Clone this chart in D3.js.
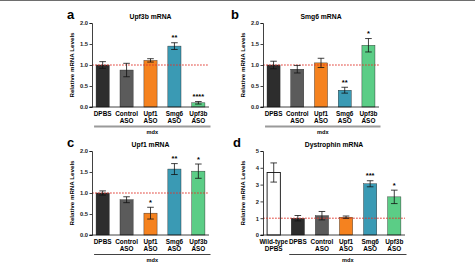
<!DOCTYPE html>
<html>
<head>
<meta charset="utf-8">
<script src="https://cdn.jsdelivr.net/npm/d3@7"></script>
<style>
  body { margin: 0; background: #fff; }
  svg { display: block; font-family: "Liberation Sans", Arial, sans-serif; font-weight: bold; }
</style>
</head>
<body>
<svg id="chart" width="475" height="262"></svg>
<script>
// groups on the x axis
const groupsABC = ["DPBS", "Control ASO", "Upf1 ASO", "Smg6 ASO", "Upf3b ASO"];
const groupsD = ["Wild-type DPBS", "DPBS", "Control ASO", "Upf1 ASO", "Smg6 ASO", "Upf3b ASO"];

// a: Upf3b mRNA
const upf3bMean = [1.0, 0.88, 1.11, 1.45, 0.10];
const upf3bErr = [0.08, 0.16, 0.04, 0.08, 0.03];
const upf3bStars = ["", "", "", "**", "****"];

// b: Smg6 mRNA
const smg6Mean = [1.0, 0.90, 1.05, 0.40, 1.47];
const smg6Err = [0.09, 0.09, 0.11, 0.07, 0.16];
const smg6Stars = ["", "", "", "**", "*"];

// c: Upf1 mRNA
const upf1Mean = [1.0, 0.84, 0.52, 1.57, 1.52];
const upf1Err = [0.05, 0.07, 0.14, 0.13, 0.17];
const upf1Stars = ["", "", "*", "**", "*"];

// d: Dystrophin mRNA
const dysMean = [3.72, 1.0, 1.15, 1.06, 3.05, 2.27];
const dysErr = [0.57, 0.16, 0.25, 0.07, 0.18, 0.40];
const dysStars = ["", "", "", "", "***", "*"];

const yTicksRel = [0, 0.5, 1.0, 1.5, 2.0];
const yTicksDys = [0, 1, 2, 3, 4, 5];

const fills = {
  "Wild-type DPBS": "#ffffff",
  "DPBS": "#2d2d2d",
  "Control ASO": "#5b5b5b",
  "Upf1 ASO": "#f5821f",
  "Smg6 ASO": "#3a9ab4",
  "Upf3b ASO": "#5bcd86"
};

const svg = d3.select("#chart");

// thin frame line along the top of the figure
svg.append("line")
  .attr("x1", 0).attr("x2", 475).attr("y1", 0.5).attr("y2", 0.5)
  .attr("stroke", "#6e6e6e").attr("stroke-width", 1.2);

function drawPanel(p) {
  const g = svg.append("g");

  const x = d3.scaleBand()
    .domain(p.groups)
    .range(p.xRange)
    .paddingInner(0.45)
    .paddingOuter(0.17);

  const y = d3.scaleLinear()
    .domain([0, p.yMax])
    .range(p.yRange);

  // panel letter
  g.append("text")
    .attr("x", p.letterX).attr("y", p.yRange[1] - 4)
    .attr("font-size", 13).attr("font-weight", "bold")
    .text(p.letter);

  // title
  g.append("text")
    .attr("x", (p.xRange[0] + p.xRange[1]) / 2).attr("y", p.yRange[1] - 4.5)
    .attr("text-anchor", "middle")
    .attr("font-size", 6.8)
    .text(p.title);

  // y label
  g.append("text")
    .attr("transform", `translate(${p.xRange[0] - 18.5},${(p.yRange[0] + p.yRange[1]) / 2}) rotate(-90)`)
    .attr("text-anchor", "middle")
    .attr("font-size", 6.2)
    .text("Relative mRNA Levels");

  // bars
  g.append("g")
    .selectAll("rect")
    .data(p.mean)
    .join("rect")
    .attr("x", (d, i) => x(p.groups[i]))
    .attr("y", d => y(d))
    .attr("width", x.bandwidth())
    .attr("height", d => y(0) - y(d))
    .attr("fill", (d, i) => fills[p.groups[i]])
    .attr("stroke", (d, i) => p.groups[i] === "Wild-type DPBS" ? "#111" : "#222")
    .attr("stroke-width", (d, i) => p.groups[i] === "Wild-type DPBS" ? 0.9 : 0.4);

  // reference line at 1
  g.append("line")
    .attr("x1", p.xRange[0]).attr("x2", p.xRange[1])
    .attr("y1", y(1)).attr("y2", y(1))
    .attr("stroke", "#e0352c").attr("stroke-width", 0.9)
    .attr("stroke-dasharray", "1.8,1.2");

  // error bars
  const eb = g.append("g").attr("stroke", "#111").attr("stroke-width", 0.8);
  p.mean.forEach((m, i) => {
    const cx = x(p.groups[i]) + x.bandwidth() / 2;
    const e = p.err[i];
    const w = 3.3;
    eb.append("line").attr("x1", cx).attr("x2", cx).attr("y1", y(m - e)).attr("y2", y(m + e));
    eb.append("line").attr("x1", cx - w).attr("x2", cx + w).attr("y1", y(m + e)).attr("y2", y(m + e));
    eb.append("line").attr("x1", cx - w).attr("x2", cx + w).attr("y1", y(m - e)).attr("y2", y(m - e));
  });

  // significance stars
  g.append("g")
    .selectAll("text")
    .data(p.stars)
    .join("text")
    .attr("x", (d, i) => x(p.groups[i]) + x.bandwidth() / 2)
    .attr("y", (d, i) => y(p.mean[i] + p.err[i]) - 2.5)
    .attr("text-anchor", "middle")
    .attr("font-size", 7.5)
    .text(d => d);

  // y axis
  const yAxis = g.append("g")
    .attr("transform", `translate(${p.xRange[0]},0)`)
    .call(d3.axisLeft(y).tickValues(p.yTicks).tickFormat(p.tickFmt).tickSize(2.5).tickPadding(1.5));
  yAxis.select(".domain").attr("stroke", "#111").attr("stroke-width", 0.8);
  yAxis.selectAll(".tick line").attr("stroke", "#111").attr("stroke-width", 0.8);
  yAxis.selectAll(".tick text")
    .attr("font-size", 5.8).attr("font-weight", "bold")
    .attr("font-family", "'Liberation Sans', Arial, sans-serif").attr("fill", "#222");

  // x axis line
  g.append("line")
    .attr("x1", p.xRange[0] - 2.5).attr("x2", p.xRange[1])
    .attr("y1", y(0)).attr("y2", y(0))
    .attr("stroke", "#111").attr("stroke-width", 0.8);

  // category labels, two lines
  const lab = g.append("g")
    .selectAll("text")
    .data(p.groups)
    .join("text")
    .attr("text-anchor", "middle")
    .attr("font-size", 6.4)
    .attr("x", d => x(d) + x.bandwidth() / 2);
  lab.each(function (d) {
    const words = d.split(" ");
    const t = d3.select(this);
    words.forEach((w, k) => {
      t.append("tspan")
        .attr("x", x(d) + x.bandwidth() / 2)
        .attr("y", y(0) + 8.5 + k * 7.6)
        .text(w);
    });
  });

  // mdx bracket
  const first = x(p.groups[p.mdxFrom]);
  g.append("line")
    .attr("x1", first - 2).attr("x2", p.xRange[1] + 1.5)
    .attr("y1", y(0) + 19.5).attr("y2", y(0) + 19.5)
    .attr("stroke", p.bracketColor).attr("stroke-width", p.bracketWidth);
  g.append("text")
    .attr("x", (first - 2 + p.xRange[1] + 1.5) / 2)
    .attr("y", y(0) + 26.5)
    .attr("text-anchor", "middle")
    .attr("font-size", 5.6)
    .text("mdx");
}

const fmt1 = d3.format(".1f");
const fmt0 = d3.format("d");

drawPanel({ letter: "a", letterX: 67, title: "Upf3b mRNA", groups: groupsABC,
  mean: upf3bMean, err: upf3bErr, stars: upf3bStars, yMax: 2, yTicks: yTicksRel, tickFmt: fmt1,
  xRange: [92, 209], yRange: [107, 23], mdxFrom: 0, bracketColor: "#9a9a9a", bracketWidth: 2 });

drawPanel({ letter: "b", letterX: 231, title: "Smg6 mRNA", groups: groupsABC,
  mean: smg6Mean, err: smg6Err, stars: smg6Stars, yMax: 2, yTicks: yTicksRel, tickFmt: fmt1,
  xRange: [263, 379], yRange: [107, 23], mdxFrom: 0, bracketColor: "#9a9a9a", bracketWidth: 2 });

drawPanel({ letter: "c", letterX: 67, title: "Upf1 mRNA", groups: groupsABC,
  mean: upf1Mean, err: upf1Err, stars: upf1Stars, yMax: 2, yTicks: yTicksRel, tickFmt: fmt1,
  xRange: [92, 209], yRange: [235, 151], mdxFrom: 0, bracketColor: "#111", bracketWidth: 0.8 });

drawPanel({ letter: "d", letterX: 233, title: "Dystrophin mRNA", groups: groupsD,
  mean: dysMean, err: dysErr, stars: dysStars, yMax: 5, yTicks: yTicksDys, tickFmt: fmt0,
  xRange: [263, 405], yRange: [235, 151], mdxFrom: 1, bracketColor: "#111", bracketWidth: 0.8 });
</script>
</body>
</html>
